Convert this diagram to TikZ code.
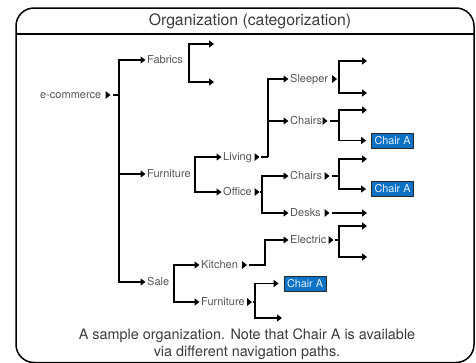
\documentclass[tikz,border=0pt]{standalone}
\usepackage{fontspec}
\setmainfont{TeX Gyre Heros}
\usetikzlibrary{arrows.meta}
\definecolor{txt}{HTML}{555555}
\definecolor{hdr}{HTML}{3A3A3A}
\definecolor{selblue}{HTML}{0A72C4}
\definecolor{selborder}{HTML}{2A2A2A}
\definecolor{seltext}{HTML}{E8F3FF}
\begin{document}
\begin{tikzpicture}[x=1pt,y=-1pt,
  lbl/.style={anchor=west, inner sep=0pt, text=txt, text height=7.9pt, text depth=0pt,
              font=\fontsize{11}{13}\selectfont},
  mk/.style={inner sep=0pt, minimum width=5pt, minimum height=8pt,
    path picture={\fill[black] (path picture bounding box.south west) -- (path picture bounding box.east) -- (path picture bounding box.north west) -- cycle;}},
  conn/.style={line width=1.5pt, black},
  arr/.style={conn, -{Triangle[length=5pt,width=7pt]}},
  arrl/.style={arr, shorten >=1.5pt},
  arrb/.style={arr, shorten >=5pt},
  sel/.style={fill=selblue, draw=selborder, line width=0.8pt, text=seltext, inner sep=0pt,
              minimum width=42pt, minimum height=15pt, font=\fontsize{10.8}{12}\selectfont},
  frame/.style={line width=1.5pt, black},
]
\useasboundingbox (0,0) rectangle (476,362);
% frame and header
\draw[frame, rounded corners=18pt] (16,362.5) rectangle (474,8);
\coordinate (hl) at (16,34);
\coordinate (hr) at (474,34);
\draw[line width=1.2pt] (hl) -- (hr);
\node[text=hdr, font=\fontsize{15.8}{18}\selectfont] (title) at (250,21) {Organization (categorization)};

% labels
\node[lbl] (ecom) at (40,95) {e-commerce};
\node[lbl] (fab) at (147,60) {Fabrics};
\node[lbl] (furn) at (147,174) {Furniture};
\node[lbl] (sale) at (147,282) {Sale};
\node[lbl] (living) at (223,157) {Living};
\node[lbl] (office) at (223,192) {Office};
\node[lbl] (kitchen) at (201,265) {Kitchen};
\node[lbl] (furn2) at (201,302) {Furniture};
\node[lbl] (sleeper) at (290,79) {Sleeper};
\node[lbl] (chairsL) at (290,121) {Chairs};
\node[lbl] (chairsO) at (290,176) {Chairs};
\node[lbl] (desks) at (290,213) {Desks};
\node[lbl] (electric) at (290,240) {Electric};

% markers
\node[mk] (ecomT) at (108,95) {};
\node[mk] (livingT) at (257,157) {};
\node[mk] (officeT) at (257,192) {};
\node[mk] (kitchenT) at (244.5,265) {};
\node[mk] (furn2T) at (249.5,302) {};
\node[mk] (sleeperT) at (334.5,79) {};
\node[mk] (chairsLT) at (325,121) {};
\node[mk] (chairsOT) at (327,176) {};
\node[mk] (desksT) at (327,213) {};
\node[mk] (electricT) at (331,240) {};

% selected items
\node[sel] (selA1) at (392.5,140.5) {Chair A};
\node[sel] (selA2) at (392.5,189) {Chair A};
\node[sel] (selA3) at (305,283.5) {Chair A};

% junctions and free ends
\coordinate (ecomJ) at (119,95);
\coordinate (fabJ) at (189,60);
\coordinate (fabE1) at (214,44);
\coordinate (fabE2) at (214,82);
\coordinate (furnJ) at (195,174);
\coordinate (livingJ) at (268,157);
\coordinate (officeJ) at (262,192);
\coordinate (sleeperJ) at (339,79);
\coordinate (sE1) at (367,61);
\coordinate (sE2) at (367,93);
\coordinate (chairsLJ) at (339,121);
\coordinate (cE1) at (367,110);
\coordinate (chairsOJ) at (339,176);
\coordinate (oE1) at (367,159);
\coordinate (dE) at (367,213);
\coordinate (saleJ) at (174,282);
\coordinate (kitJ) at (265,265);
\coordinate (electricJ) at (339,240);
\coordinate (eE1) at (367,226);
\coordinate (eE2) at (367,257);
\coordinate (furn2J) at (255,302);
\coordinate (f2E) at (282,318);

% connectors
\draw[conn] ([xshift=2.5pt]ecomT.east) -- (ecomJ);
\draw[arrl] (ecomJ) |- (fab.west);
\draw[arrl] (ecomJ) |- (furn.west);
\draw[arrl] (ecomJ) |- (sale.west);

\draw[arr] (fabJ) |- (fabE1);
\draw[arr] (fabJ) |- (fabE2);

\draw[arrl] (furnJ) |- (living.west);
\draw[arrl] (furnJ) |- (office.west);

\draw[conn] ([xshift=1.5pt]livingT.east) -- (livingJ);
\draw[arrl] (livingJ) |- (sleeper.west);
\draw[arrl] (livingJ) |- (chairsL.west);

\draw[conn] ([xshift=0.5pt]officeT.east) -- (officeJ);
\draw[arrl] (officeJ) |- (chairsO.west);
\draw[arrl] (officeJ) |- (desks.west);

\draw[conn] ([xshift=0.5pt]sleeperT.east) -- (sleeperJ);
\draw[arr] (sleeperJ) |- (sE1);
\draw[arr] (sleeperJ) |- (sE2);

\draw[conn] ([xshift=2pt]chairsLT.east) -- (chairsLJ);
\draw[arr] (chairsLJ) |- (cE1);
\draw[arrb] (chairsLJ) |- (selA1.west);

\draw[conn] ([xshift=2pt]chairsOT.east) -- (chairsOJ);
\draw[arr] (chairsOJ) |- (oE1);
\draw[arrb] (chairsOJ) |- (selA2.west);

\draw[arr] ([xshift=2pt]desksT.east) -- (dE);

\draw[arrl] (saleJ) |- (kitchen.west);
\draw[arrl] (saleJ) |- (furn2.west);

\draw[arrl] ([xshift=2pt]kitchenT.east) -- (kitJ) |- (electric.west);

\draw[conn] ([xshift=1.5pt]electricT.east) -- (electricJ);
\draw[arr] (electricJ) |- (eE1);
\draw[arr] (electricJ) |- (eE2);

\draw[conn] ([xshift=1pt]furn2T.east) -- (furn2J);
\draw[arrb] (furn2J) |- (selA3.west);
\draw[arr] (furn2J) |- (f2E);

% caption
\node[text=hdr, font=\fontsize{14.4}{17.5}\selectfont, align=center] (cap) at (247,344)
  {A sample organization. Note that Chair A is available\\via different navigation paths.};
\end{tikzpicture}
\end{document}
